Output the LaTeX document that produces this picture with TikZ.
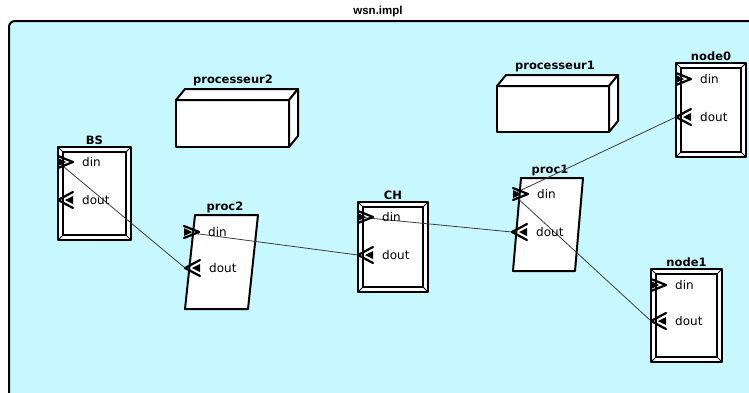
\documentclass[tikz,border=0pt]{standalone}
\usepackage{fontspec}
\setmainfont{DejaVu Sans}
\newfontfamily\titlefont{Liberation Sans}
\definecolor{implbg}{RGB}{200,248,255}
\definecolor{wirecol}{RGB}{60,60,60}
\tikzset{
  boxlabel/.style={font=\bfseries\fontsize{11.5}{13}\selectfont, anchor=south, inner sep=1pt},
  portlabel/.style={font=\fontsize{12}{14}\selectfont, anchor=west, inner sep=0pt},
  portline/.style={line width=2.2pt, black},
  wire/.style={draw=wirecol, line width=0.8pt},
}
\begin{document}
\begin{tikzpicture}[x=1pt, y=-1pt, line cap=round, line join=round]
	\useasboundingbox (0,0) rectangle (749,392);
	\clip (0,0) rectangle (749,392);
	%Implementation
	\path[draw=black, fill=implbg, line width=2pt, rounded corners=6pt] (9,21) rectangle (800,430);
	\node[font=\titlefont\bfseries\fontsize{11.5}{13}\selectfont] (impl-title) at (378,12) {wsn.impl};

	%Processors
	\path[draw=black, fill=white, line width=2pt] (176,100) rectangle (289,147);
	\path[draw=black, fill=white, line width=2pt] (176,100) -- (185,89) -- (298,89) -- (289,100) -- cycle;
	\path[draw=black, fill=white, line width=2pt] (289,100) -- (298,89) -- (298,136) -- (289,147) -- cycle;
	\node[boxlabel] (processeur2) at (233,87) {processeur2};

	\path[draw=black, fill=white, line width=2pt] (497,86) rectangle (609,132);
	\path[draw=black, fill=white, line width=2pt] (497,86) -- (506,75) -- (618,75) -- (609,86) -- cycle;
	\path[draw=black, fill=white, line width=2pt] (609,86) -- (618,75) -- (618,121) -- (609,132) -- cycle;
	\node[boxlabel] (processeur1) at (555,73) {processeur1};

	%Processes
	\path[draw=black, fill=white, line width=2pt] (185,309) -- (195,215) -- (258,215) -- (248,309) -- cycle;
	\node[boxlabel] (proc2) at (225,214) {proc2};
	\path[draw=black, fill=white, line width=2pt] (513,271) -- (521,178) -- (583,178) -- (575,271) -- cycle;
	\node[boxlabel] (proc1) at (550,177) {proc1};

	%Devices
	\foreach \n/\xa/\ya/\xb/\yb in {BS/58/147/131/240, CH/358/202/428/292, node0/676/63/746/157, node1/651/269/722/362} {
		\path[draw=black, fill=white, line width=2pt] (\xa,\ya) rectangle (\xb,\yb);
		\draw[line width=1.4pt] (\xa+5,\ya+5) rectangle (\xb-5,\yb-5);
		\draw[line width=1pt] (\xa,\ya) -- ++(5,5) (\xb,\ya) -- ++(-5,5) (\xa,\yb) -- ++(5,-5) (\xb,\yb) -- ++(-5,-5);
		\node[boxlabel] (\n-title) at ({(\xa+\xb)/2},\ya-1) {\n};
	}

	%Ports
	\coordinate (BS-din) at (58,162);
	\coordinate (BS-dout) at (58,200);
	\coordinate (CH-din) at (358,217);
	\coordinate (CH-dout) at (358,255);
	\coordinate (node0-din) at (676,79);
	\coordinate (node0-dout) at (676,117);
	\coordinate (node1-din) at (651,285);
	\coordinate (node1-dout) at (651,321);
	\coordinate (proc2-din) at (184,232);
	\coordinate (proc2-dout) at (185,268);
	\coordinate (proc1-din) at (513,194);
	\coordinate (proc1-dout) at (512,232);

	%Connections
	\draw[wire] (BS-din) -- (proc2-dout);
	\draw[wire] (proc2-din) -- (CH-dout);
	\draw[wire] (CH-din) -- (proc1-dout);
	\draw[wire] (proc1-din) -- (node0-dout);
	\draw[wire] (proc1-din) -- (node1-dout);

	\foreach \p in {BS, CH, node0, node1, proc2, proc1} {
		\draw[portline] (\p-din) ++(0,-6) -- ++(15,6) -- ++(-15,6);
		\fill (\p-din) ++(0,-4) -- ++(8,4) -- ++(-8,4) -- cycle;
		\node[portlabel] (\p-din-text) at ([xshift=24pt]\p-din) {din};
		\draw[portline] (\p-dout) ++(15,-8) -- ++(-15,8) -- ++(15,8);
		\fill (\p-dout) ++(7,0) -- ++(8,-4) -- ++(0,8) -- cycle;
		\node[portlabel] (\p-dout-text) at ([xshift=24pt]\p-dout) {dout};
	}
\end{tikzpicture}
\end{document}
